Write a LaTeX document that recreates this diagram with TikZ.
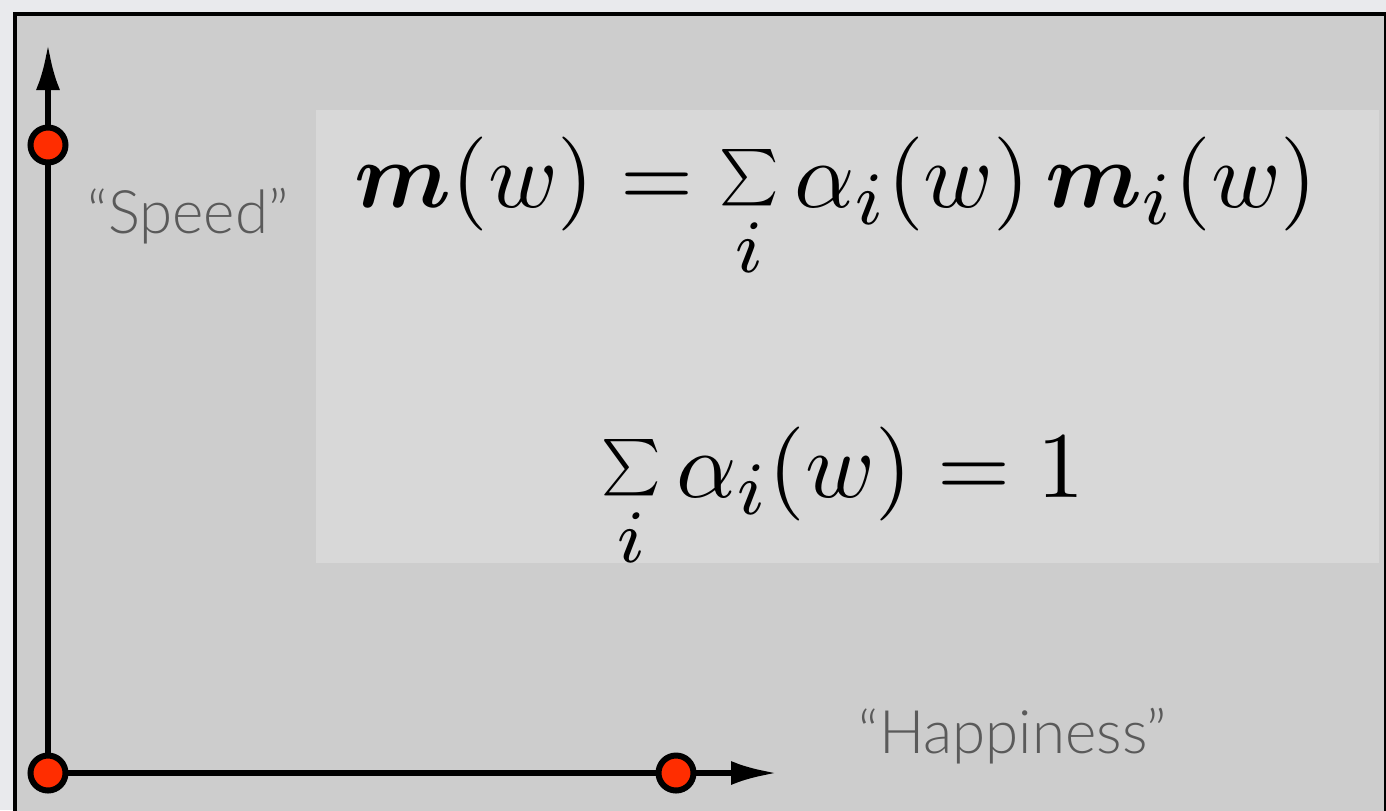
\documentclass[tikz,border=0pt]{standalone}
\usepackage{amsmath,bm}
\usepackage{fontspec}
\newfontfamily\labelfont{Lato Light}
\usetikzlibrary{positioning, arrows.meta}
\definecolor{bgGrey}{RGB}{233,234,237}
\definecolor{paneGrey}{RGB}{205,205,205}
\definecolor{boxGrey}{RGB}{216,216,216}
\definecolor{labelGrey}{RGB}{90,90,90}
\definecolor{dotRed}{RGB}{255,45,0}
\DeclareMathSizes{10}{10}{8}{6}
\newcommand{\bigeq}[1]{\scalebox{4.7}{$#1$}}
\newcommand{\smallsum}{\mathop{\raisebox{1.6pt}{\scalebox{0.6}{$\sum$}}}\limits}

\begin{document}
\begin{tikzpicture}[
    x=0.5pt, y=-0.5pt,
    axis/.style={line width=3pt, -{Latex[length=23pt, width=12pt]}},
    dot/.style={circle, draw=black, line width=3pt, fill=dotRed,
                minimum size=17.5pt, inner sep=0pt},
    lbl/.style={font=\labelfont\fontsize{30}{36}\selectfont, text=labelGrey,
                anchor=base, inner sep=0pt},
    eq/.style={anchor=base, inner sep=0pt},
  ]
    \useasboundingbox (0,0) rectangle (1386,810);
    \fill[bgGrey] (0,0) rectangle (1386,810);
    \draw[line width=2pt, fill=paneGrey] (15,14) rectangle (1386,830);
    \fill[boxGrey] (316,110) rectangle (1379,563);
    % axes
    \coordinate (o) at (48,773);
    \coordinate (yup) at (48,145);
    \coordinate (xup) at (676,773);
    \coordinate (ytip) at (48,44);
    \coordinate (xtip) at (777,773);
    \draw[axis] (o) -- (ytip);
    \draw[axis] (o) -- (xtip);
    \node[dot] (origin) at (o) {};
    \node[dot] (ydot) at (yup) {};
    \node[dot] (xdot) at (xup) {};
    \node[lbl] (speed) at (188,233) {“Speed”};
    \node[lbl] (happy) at (1013,753) {“Happiness”};
    % formulas
    \node[eq] (mix) at (836,207) {\bigeq{\bm{m}(w) = \smallsum_i \alpha_i(w)\, \bm{m}_i(w)}};
    \node[eq] (norm) at (843,497) {\bigeq{\smallsum_i \alpha_i(w) = 1}};
  \end{tikzpicture}
\end{document}
